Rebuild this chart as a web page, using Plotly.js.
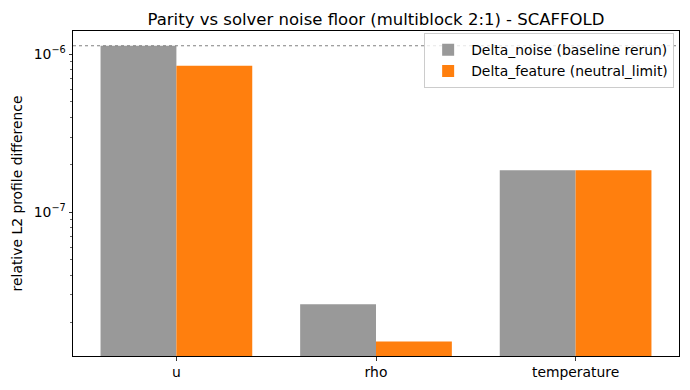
<!DOCTYPE html>
<html><head><meta charset="utf-8">
<script src="https://cdn.plot.ly/plotly-3.0.1.min.js"></script>
<style>body{margin:0;padding:0;background:#fff}#chart{width:690px;height:390px}</style>
</head><body><div id="chart"></div>
<script>
const categories = ["u", "rho", "temperature"];
const deltaNoise = [1.135e-6, 2.62e-8, 1.85e-7];
const deltaFeature = [8.48e-7, 1.52e-8, 1.85e-7];
const noiseFloor = Math.max(...deltaNoise);
const majorTicks = [1e-7, 1e-6];
const majorText = ["10<sup>−7</sup>", "10<sup>−6</sup>"];
const minorTicks = [2e-8,3e-8,4e-8,5e-8,6e-8,7e-8,8e-8,9e-8,2e-7,3e-7,4e-7,5e-7,6e-7,7e-7,8e-7,9e-7];

const font = {family: "DejaVu Sans", size: 13.9, color: "#000"};
const traces = [
  {type: "bar", name: "Delta_noise (baseline rerun)", x: categories, y: deltaNoise,
   marker: {color: "#999999", line: {width: 0}}},
  {type: "bar", name: "Delta_feature (neutral_limit)", x: categories, y: deltaFeature,
   marker: {color: "#ff7f0e", line: {width: 0}}}
];
const layout = {
  width: 690, height: 390,
  margin: {l: 73, r: 10.5, t: 31.3, b: 34.3, pad: 0},
  paper_bgcolor: "#fff", plot_bgcolor: "#fff",
  font: font,
  barmode: "group", bargap: 0.24, bargroupgap: 0,
  title: {text: "Parity vs solver noise floor (multiblock 2:1) - SCAFFOLD",
          font: {family: "DejaVu Sans", size: 16.5, color: "#000"},
          x: 0.5, xref: "paper", xanchor: "center", y: 1, yref: "paper", yanchor: "bottom", pad: {b: 6}},
  xaxis: {type: "category", range: [-0.518, 2.518], showgrid: false, zeroline: false,
          showline: true, linecolor: "#000", linewidth: 1, mirror: true,
          ticks: "outside", ticklen: 3.5, tickwidth: 0.8, tickcolor: "#000",
          tickfont: font},
  yaxis: {type: "log", range: [-7.91, -5.8515], showgrid: false, zeroline: false,
          showline: true, linecolor: "#000", linewidth: 1, mirror: true,
          ticks: "outside", ticklen: 3.5, tickwidth: 0.8, tickcolor: "#000",
          tickmode: "array", tickvals: majorTicks, ticktext: majorText, tickfont: font,
          minor: {tickmode: "array", tickvals: minorTicks, ticks: "outside", ticklen: 2, tickwidth: 0.6, tickcolor: "#000", showgrid: false},
          title: {text: "relative L2 profile difference", font: font, standoff: 7}},
  legend: {x: 0.992, y: 0.993, xanchor: "right", yanchor: "top",
           bgcolor: "rgba(255,255,255,0.8)", bordercolor: "#cccccc", borderwidth: 1,
           font: font, tracegroupgap: 2, itemwidth: 36},
  shapes: [{type: "line", xref: "paper", x0: 0, x1: 1, yref: "y", y0: noiseFloor, y1: noiseFloor,
            line: {color: "#808080", width: 1, dash: "dot"}}],
  showlegend: true
};
Plotly.newPlot("chart", traces, layout, {displayModeBar: false, staticPlot: true});
</script></body></html>
